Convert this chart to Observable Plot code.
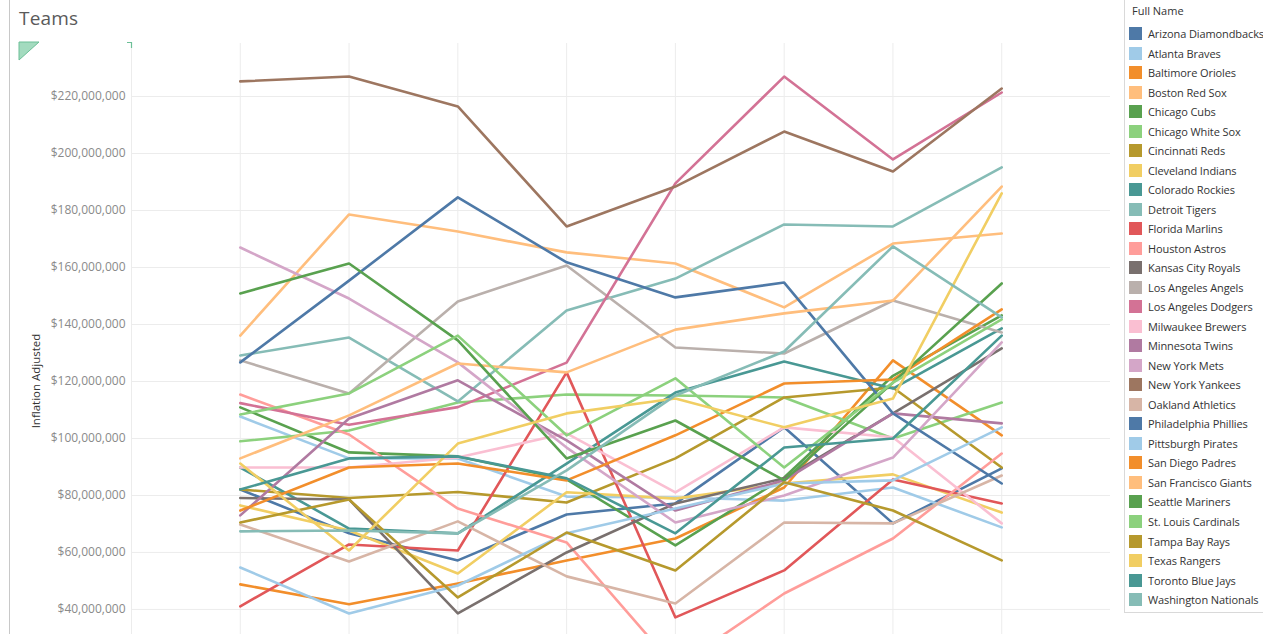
<!DOCTYPE html>
<html><head><meta charset="utf-8">
<script src="https://cdn.jsdelivr.net/npm/d3@7"></script>
<script src="https://cdn.jsdelivr.net/npm/@observablehq/plot@0.6"></script>
<style>
body{margin:0;background:#fff;font-family:"Open Sans",sans-serif;}
#wrap{position:relative;width:1263px;height:634px;overflow:hidden;background:#fff;}
#edge{position:absolute;left:9px;top:0;width:0;height:634px;border-left:1px solid #c8c8c8;}
#title{position:absolute;left:19px;top:5px;font-size:19px;color:#5a5a5a;letter-spacing:0.2px;}
#chart{position:absolute;left:0;top:0;}
#ylab{position:absolute;left:35px;top:381px;transform:translate(-50%,-50%) rotate(-90deg);font-size:11.5px;color:#333;white-space:nowrap;}
#deco{position:absolute;left:0;top:0;}
#legend{position:absolute;left:1124px;top:-1px;width:139px;height:612px;border:1px solid #d9d9d9;border-right:none;background:#fff;}
#legend .hd{position:absolute;left:7px;top:3px;font-size:11px;color:#333;white-space:nowrap;}
#legend .it{position:absolute;left:4px;height:14px;white-space:nowrap;font-size:11px;letter-spacing:-0.1px;color:#333;line-height:14px;}
#legend .sw{display:inline-block;width:13px;height:13px;vertical-align:top;margin-right:6px;}
</style></head>
<body>
<div id="wrap">
  <div id="edge"></div>
  <div id="title">Teams</div>
  <div id="chart"></div>
  <svg id="deco" width="140" height="70">
    <polygon points="19,42 39,42 19,60" fill="#a3dbbf" stroke="#6cbf97" stroke-width="1"/>
    <path d="M127,42.5 H131.5 V48" fill="none" stroke="#6cbf97" stroke-width="1.2"/>
  </svg>
  <div id="ylab">Inflation Adjusted</div>
  <div id="legend"><div class="hd">Full Name</div></div>
</div>
<script>
const periods = [1, 2, 3, 4, 5, 6, 7, 8];
const yTicks = [40, 60, 80, 100, 120, 140, 160, 180, 200, 220];

const teams = ["Arizona Diamondbacks","Atlanta Braves","Baltimore Orioles","Boston Red Sox","Chicago Cubs","Chicago White Sox","Cincinnati Reds","Cleveland Indians","Colorado Rockies","Detroit Tigers","Florida Marlins","Houston Astros","Kansas City Royals","Los Angeles Angels","Los Angeles Dodgers","Milwaukee Brewers","Minnesota Twins","New York Mets","New York Yankees","Oakland Athletics","Philadelphia Phillies","Pittsburgh Pirates","San Diego Padres","San Francisco Giants","Seattle Mariners","St. Louis Cardinals","Tampa Bay Rays","Texas Rangers","Toronto Blue Jays","Washington Nationals"];

const colors = ["#4e79a7","#a0cbe8","#f28e2b","#ffbe7d","#59a14f","#8cd17d","#b6992d","#f1ce63","#499894","#86bcb6","#e15759","#ff9d9a","#79706e","#bab0ac","#d37295","#fabfd2","#b07aa1","#d4a6c8","#9d7660","#d7b5a6","#4e79a7","#a0cbe8","#f28e2b","#ffbe7d","#59a14f","#8cd17d","#b6992d","#f1ce63","#499894","#86bcb6"];

// Inflation-adjusted payroll, millions of dollars, one value per period
const arizona      = [82.1, 66.7, 57.2, 73.3, 77.2, 103.9, 70.2, 89.5];
const atlanta      = [107.7, 93.0, 93.0, 79.6, 79.3, 78.2, 82.8, 68.8];
const baltimore    = [48.8, 41.8, 49.1, 57.2, 64.9, 82.8, 127.4, 101.1];
const boston       = [136.1, 178.6, 172.6, 165.3, 161.4, 146.0, 168.4, 171.9];
const cubs         = [110.9, 95.1, 93.7, 85.6, 62.5, 86.3, 122.0, 143.2];
const whiteSox     = [99.0, 102.8, 112.6, 115.4, 115.1, 114.4, 100.0, 112.6];
const cincinnati   = [82.1, 79.1, 81.2, 77.5, 93.0, 114.4, 117.9, 89.8];
const cleveland    = [76.5, 67.7, 52.6, 81.1, 78.9, 84.2, 87.4, 74.0];
const colorado     = [89.8, 68.4, 66.7, 91.2, 116.1, 127.0, 117.5, 138.6];
const detroit      = [129.1, 135.4, 113.0, 144.9, 156.1, 175.1, 174.4, 195.1];
const florida      = [41.1, 62.8, 60.7, 123.2, 37.2, 53.7, 85.6, 77.2];
const houston      = [115.4, 101.4, 75.4, 63.5, 19.6, 45.6, 64.9, 94.7];
const kansasCity   = [79.1, 78.6, 38.6, 60.0, 77.2, 86.0, 108.8, 131.6];
const angels       = [127.4, 115.8, 148.1, 160.7, 131.9, 129.8, 148.4, 137.2];
const dodgers      = [112.4, 104.8, 111.0, 126.6, 189.5, 227.0, 197.9, 221.4];
const milwaukee    = [89.8, 89.8, 93.3, 101.8, 81.1, 103.9, 100.4, 70.2];
const minnesota    = [73.0, 107.0, 120.4, 99.3, 74.7, 85.3, 108.8, 105.3];
const mets         = [167.0, 149.1, 126.7, 96.8, 70.5, 80.0, 93.3, 133.7];
const yankees      = [225.3, 227.0, 216.5, 174.4, 188.4, 207.7, 193.7, 222.8];
const oakland      = [69.8, 56.8, 70.9, 51.6, 42.1, 70.5, 70.2, 87.0];
const philadelphia = [126.7, 155.4, 184.6, 161.8, 149.5, 154.7, 108.8, 84.2];
const pittsburgh   = [54.7, 38.6, 48.4, 66.7, 75.4, 84.2, 85.3, 103.9];
const sanDiego     = [74.7, 89.8, 91.2, 85.3, 101.1, 119.3, 120.7, 145.3];
const sanFrancisco = [93.0, 108.1, 126.3, 123.2, 138.2, 143.9, 148.4, 188.4];
const seattle      = [150.9, 161.4, 134.4, 93.0, 106.3, 85.3, 119.6, 154.4];
const stLouis      = [108.4, 115.8, 136.1, 101.1, 121.1, 89.8, 119.6, 141.8];
const tampaBay     = [70.5, 78.6, 44.2, 67.0, 53.7, 84.6, 74.7, 57.2];
const texas        = [91.2, 60.7, 98.2, 108.8, 114.0, 103.9, 114.0, 186.0];
const toronto      = [82.1, 93.0, 93.7, 86.0, 66.7, 96.8, 100.0, 136.1];
const washington   = [67.4, 67.7, 66.7, 88.8, 115.1, 130.5, 167.4, 142.5];

const series = [arizona, atlanta, baltimore, boston, cubs, whiteSox, cincinnati, cleveland, colorado, detroit, florida, houston, kansasCity, angels, dodgers, milwaukee, minnesota, mets, yankees, oakland, philadelphia, pittsburgh, sanDiego, sanFrancisco, seattle, stLouis, tampaBay, texas, toronto, washington];

const rows = teams.flatMap((t, k) => series[k].map((v, j) => ({team: t, period: periods[j], value: v})));
const money = d3.format("$,");

const chart = Plot.plot({
  width: 1120,
  height: 640,
  marginLeft: 131,
  marginRight: 10,
  marginTop: 43,
  marginBottom: 0,
  style: {background: "transparent", fontFamily: "'Open Sans', sans-serif"},
  x: {domain: [0, 9], axis: null},
  y: {domain: [29.1, 238.6], axis: null},
  color: {domain: teams, range: colors},
  marks: [
    Plot.gridY(yTicks, {stroke: "#ececec", strokeOpacity: 1}),
    Plot.gridX([0, ...periods], {stroke: "#ececec", strokeOpacity: 1}),
    Plot.axisY(yTicks, {tickSize: 0, tickPadding: 6, tickFormat: d => money(d * 1e6), fontSize: 12, fill: "#8a8a8a", label: null}),
    Plot.line(rows, {x: "period", y: "value", z: "team", stroke: "team", strokeWidth: 2.6, clip: true})
  ]
});
document.getElementById("chart").appendChild(chart);

const legend = document.getElementById("legend");
teams.forEach((t, k) => {
  const it = document.createElement("div");
  it.className = "it";
  it.style.top = (27 + k * 19.52) + "px";
  const sw = document.createElement("span");
  sw.className = "sw";
  sw.style.background = colors[k];
  it.appendChild(sw);
  it.appendChild(document.createTextNode(t));
  legend.appendChild(it);
});
</script>
</body></html>
